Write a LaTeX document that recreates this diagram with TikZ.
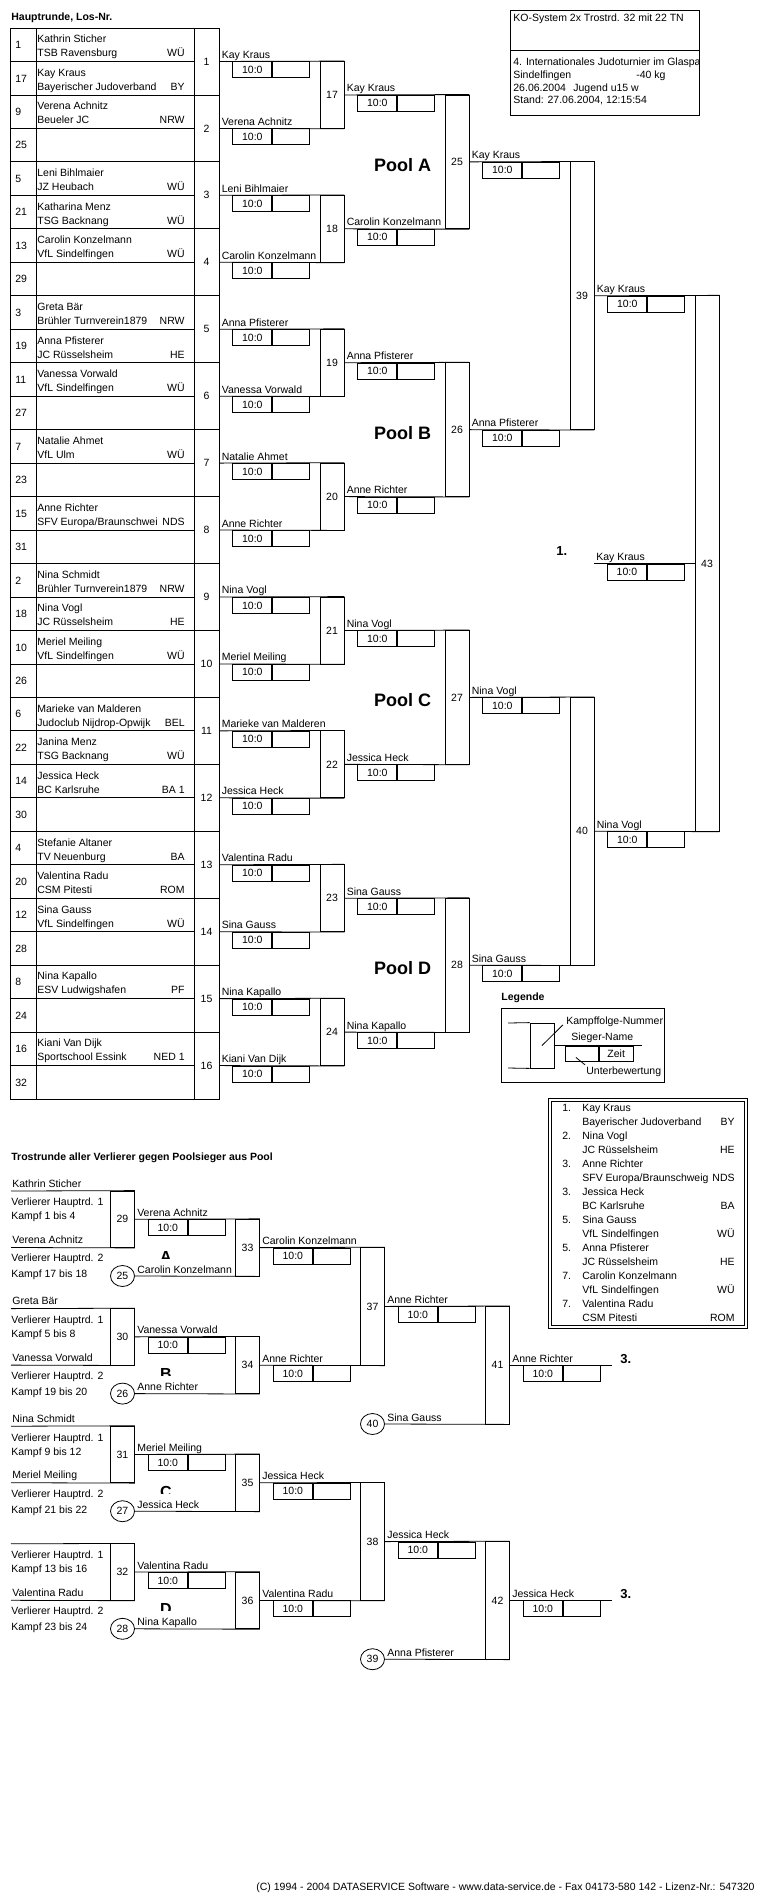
\documentclass[tikz,border=0pt]{standalone}
\usepackage{fontspec}
\setmainfont{Liberation Sans}
\usetikzlibrary{positioning,calc,shapes.geometric}
\tikzset{
  txt/.style = {inner sep=0pt, font=\fontsize{10.5}{12}\selectfont},
  lbl/.style = {txt, anchor=base west, yshift=-3.8pt},
  code/.style = {txt, anchor=base east, yshift=-3.8pt},
  head/.style = {lbl, font=\fontsize{10.5}{12}\selectfont\bfseries},
  kbox/.style = {txt, draw, rectangle, minimum width=24pt},% Kampfnummer
  wname/.style = {txt, anchor=base west},% Siegername
  sleft/.style = {txt, draw, anchor=north west, minimum width=39pt,
    minimum height=16pt},% Wertung
  sright/.style = {txt, draw, anchor=north west, minimum width=37pt,
    minimum height=16pt},% Zeit
  pool/.style = {inner sep=0pt, font=\fontsize{18}{20}\selectfont\bfseries},
  rankmark/.style = {inner sep=0pt, anchor=base west,
    font=\fontsize{13}{15}\selectfont\bfseries},
  pwin/.style = {txt, draw, ellipse, minimum width=24pt,
    minimum height=21pt},% Poolsieger
  letter/.style = {inner sep=0pt, anchor=base,
    font=\fontsize{16}{18}\selectfont\bfseries}
}
\newcommand{\rh}{33.47}
% Siegerzeile: Name ueber der Linie, Wertung darunter
\newcommand{\sieger}[3]{%
  \node[wname] (n#3) at ([shift={(2pt,3pt)}]#1) {#2};
  \node[sleft] (s#3) at ([xshift=13pt]#1) {10:0};
  \node[sright] (z#3) at (s#3.north east) {};
}
\begin{document}
\begin{tikzpicture}[x=1pt,y=-1pt,line width=0.8pt]
\useasboundingbox (0,0) rectangle (770,1900);

% Kopf
\node[head] (title) at (11,17) {Hauptrunde, Los-Nr.};
\draw (510,10) rectangle (699,115);
\draw (510,50) -- (699,50);
\node[lbl] (sys) at (513,18) {KO-System 2x Trostrd. 32 mit 22 TN};
\begin{scope}
  \clip (510,50) rectangle (698,115);
  \node[lbl] (ev) at (513,62) {4. Internationales Judoturnier im Glaspa};
\end{scope}
\node[lbl] (ort) at (513,75) {Sindelfingen};
\node[lbl] (kg) at (636,75) {-40 kg};
\node[lbl] (dat) at (513,88) {26.06.2004};
\node[lbl] (kl) at (573,88) {Jugend u15 w};
\node[lbl] (stand) at (513,100) {Stand: 27.06.2004, 12:15:54};

% Los-Tabelle
\draw (10,28) rectangle (219,{28+32*\rh});
\draw (36,28) -- (36,{28+32*\rh});
\foreach \r in {1,...,31}
  \draw (10,{28+\r*\rh}) -- (194,{28+\r*\rh});
\foreach [count=\r] \los/\nm/\club/\st in {
  1/Kathrin Sticher/TSB Ravensburg/WÜ,
  17/Kay Kraus/Bayerischer Judoverband/BY,
  9/Verena Achnitz/Beueler JC/NRW,
  25/{}/{}/{},
  5/Leni Bihlmaier/JZ Heubach/WÜ,
  21/Katharina Menz/TSG Backnang/WÜ,
  13/Carolin Konzelmann/VfL Sindelfingen/WÜ,
  29/{}/{}/{},
  3/Greta Bär/Brühler Turnverein1879/NRW,
  19/Anna Pfisterer/JC Rüsselsheim/HE,
  11/Vanessa Vorwald/VfL Sindelfingen/WÜ,
  27/{}/{}/{},
  7/Natalie Ahmet/VfL Ulm/WÜ,
  23/{}/{}/{},
  15/Anne Richter/{SFV Europa/Braunschwei}/NDS,
  31/{}/{}/{},
  2/Nina Schmidt/Brühler Turnverein1879/NRW,
  18/Nina Vogl/JC Rüsselsheim/HE,
  10/Meriel Meiling/VfL Sindelfingen/WÜ,
  26/{}/{}/{},
  6/Marieke van Malderen/Judoclub Nijdrop-Opwijk/BEL,
  22/Janina Menz/TSG Backnang/WÜ,
  14/Jessica Heck/BC Karlsruhe/BA 1,
  30/{}/{}/{},
  4/Stefanie Altaner/TV Neuenburg/BA,
  20/Valentina Radu/CSM Pitesti/ROM,
  12/Sina Gauss/VfL Sindelfingen/WÜ,
  28/{}/{}/{},
  8/Nina Kapallo/ESV Ludwigshafen/PF,
  24/{}/{}/{},
  16/Kiani Van Dijk/Sportschool Essink/NED 1,
  32/{}/{}/{}}{
  \node[lbl] (los\r) at (15,{28+(\r-0.5)*\rh}) {\los};
  \node[lbl] (nm\r) at (37,{28+(\r-1)*\rh+11}) {\nm};
  \node[lbl] (cl\r) at (37,{28+(\r-1)*\rh+25}) {\club};
  \node[code] (st\r) at (185,{28+(\r-1)*\rh+25}) {\st};
}
\foreach \k in {1,...,16}
  \node[kbox, minimum width=25pt, minimum height=2*\rh] (m\k)
    at (206.5,{28+(2*\k-1)*\rh}) {\k};

% Hauptrunde
\foreach \j in {1,...,8}{
  \pgfmathtruncatemacro\fn{16+\j}
  \node[kbox, minimum height=2*\rh] (f\fn) at (332,{28+(4*\j-2)*\rh}) {\fn};
}
\foreach \j in {1,...,4}{
  \pgfmathtruncatemacro\fn{24+\j}
  \node[kbox, minimum height=4*\rh] (f\fn) at (457,{28+(8*\j-4)*\rh}) {\fn};
}
\node[kbox, minimum height=8*\rh] (f39) at (582,{28+8*\rh}) {39};
\node[kbox, minimum height=8*\rh] (f40) at (582,{28+24*\rh}) {40};
\node[kbox, minimum height=16*\rh] (f43) at (707,{28+16*\rh}) {43};

\foreach \j in {1,...,8}{
  \pgfmathtruncatemacro\fa{2*\j-1}
  \pgfmathtruncatemacro\fb{2*\j}
  \pgfmathtruncatemacro\fn{16+\j}
  \draw (m\fa.east) -- (f\fn.north east);
  \draw (m\fb.east) -- (f\fn.south east);
}
\foreach \j in {1,...,4}{
  \pgfmathtruncatemacro\fa{15+2*\j}
  \pgfmathtruncatemacro\fb{16+2*\j}
  \pgfmathtruncatemacro\fn{24+\j}
  \draw (f\fa.east) -- (f\fn.north east);
  \draw (f\fb.east) -- (f\fn.south east);
}
\draw (f25.east) -- (f39.north east);
\draw (f26.east) -- (f39.south east);
\draw (f27.east) -- (f40.north east);
\draw (f28.east) -- (f40.south east);
\draw (f39.east) -- (f43.north east);
\draw (f40.east) -- (f43.south east);
\coordinate (champ) at (594,{28+16*\rh});
\draw (f43.west) -- (champ);

\foreach \k/\w in {1/Kay Kraus, 2/Verena Achnitz, 3/Leni Bihlmaier,
  4/Carolin Konzelmann, 5/Anna Pfisterer, 6/Vanessa Vorwald,
  7/Natalie Ahmet, 8/Anne Richter, 9/Nina Vogl, 10/Meriel Meiling,
  11/Marieke van Malderen, 12/Jessica Heck, 13/Valentina Radu,
  14/Sina Gauss, 15/Nina Kapallo, 16/Kiani Van Dijk}
  {\sieger{m\k.east}{\w}{\k}}
\foreach \k/\w in {17/Kay Kraus, 18/Carolin Konzelmann, 19/Anna Pfisterer,
  20/Anne Richter, 21/Nina Vogl, 22/Jessica Heck, 23/Sina Gauss,
  24/Nina Kapallo, 25/Kay Kraus, 26/Anna Pfisterer, 27/Nina Vogl,
  28/Sina Gauss, 39/Kay Kraus, 40/Nina Vogl}
  {\sieger{f\k.east}{\w}{\k}}
\sieger{champ}{Kay Kraus}{43}
\node[rankmark] (first) at (556,555) {1.};

\node[pool, left=13pt of f25.west, yshift=-3pt] (poolA) {Pool A};
\node[pool, left=13pt of f26.west, yshift=-3pt] (poolB) {Pool B};
\node[pool, left=13pt of f27.west, yshift=-3pt] (poolC) {Pool C};
\node[pool, left=13pt of f28.west, yshift=-3pt] (poolD) {Pool D};

% Legende
\node[head] (leg) at (501,997) {Legende};
\draw (501,1008) rectangle (664,1082);
\node[draw, rectangle, inner sep=0pt, minimum width=24pt,
  minimum height=45pt] (lgk) at (542,1045.5) {};
\coordinate (lga) at (508,1023);
\coordinate (lgb) at (508,1068);
\coordinate (lgw) at (642,1045.5);
\draw (lga) -- (lgk.north west);
\draw (lgb) -- (lgk.south west);
\draw (lgk.east) -- (lgw);
\node[sleft, minimum width=33pt, minimum height=15pt] (lgs) at (565,1045.5) {};
\node[sright, minimum width=34pt, minimum height=15pt] (lgz) at (lgs.north east) {Zeit};
\node[lbl] (lgt1) at (566,1021) {Kampffolge-Nummer};
\node[lbl] (lgt2) at (571,1037) {Sieger-Name};
\node[lbl] (lgt3) at (586,1071) {Unterbewertung};
\draw (lgk.center) -- ([shift={(-3pt,0pt)}]lgt1.base west);
\draw ([shift={(-6pt,-4pt)}]lgs.center) -- ([shift={(-1pt,10pt)}]lgt3.base west);

% Platzierungen
\draw (548,1098) rectangle (747,1328);
\draw (551,1101) rectangle (744,1325);
\foreach [count=\i from 0] \rk/\nm/\club/\st in {
  1./Kay Kraus/Bayerischer Judoverband/BY,
  2./Nina Vogl/JC Rüsselsheim/HE,
  3./Anne Richter/{SFV Europa/Braunschweig}/NDS,
  3./Jessica Heck/BC Karlsruhe/BA,
  5./Sina Gauss/VfL Sindelfingen/WÜ,
  5./Anna Pfisterer/JC Rüsselsheim/HE,
  7./Carolin Konzelmann/VfL Sindelfingen/WÜ,
  7./Valentina Radu/CSM Pitesti/ROM}{
  \node[lbl] (rk\i) at (562,{1108+28*\i}) {\rk};
  \node[lbl] (rn\i) at (582,{1108+28*\i}) {\nm};
  \node[lbl] (rc\i) at (582,{1122+28*\i}) {\club};
  \node[code] (rs\i) at (735,{1122+28*\i}) {\st};
}

% Trostrunde
\node[head] (tr) at (11,1157) {Trostrunde aller Verlierer gegen Poolsieger aus Pool};
\foreach [count=\i from 0] \lta/\ltb/\ka/\kb/\wa/\pw/\pl/\wb in {
  Kathrin Sticher/Verena Achnitz/1 bis 4/17 bis 18/Verena Achnitz/Carolin Konzelmann/A/Carolin Konzelmann,
  Greta Bär/Vanessa Vorwald/5 bis 8/19 bis 20/Vanessa Vorwald/Anne Richter/B/Anne Richter,
  Nina Schmidt/Meriel Meiling/9 bis 12/21 bis 22/Meriel Meiling/Jessica Heck/C/Jessica Heck,
  {}/Valentina Radu/13 bis 16/23 bis 24/Valentina Radu/Nina Kapallo/D/Valentina Radu}{
  \pgfmathsetmacro\tp{1191+117.6*\i}
  \pgfmathtruncatemacro\fx{29+\i}
  \pgfmathtruncatemacro\fy{33+\i}
  \pgfmathtruncatemacro\cn{25+\i}
  \node[kbox, minimum height=56.5pt] (f\fx) at (122.5,{\tp+28.25}) {\fx};
  \coordinate (la\i) at (11,\tp);
  \coordinate (lb\i) at (11,{\tp+56.5});
  \draw (la\i) -- (f\fx.north east);
  \draw (lb\i) -- (f\fx.south east);
  \node[wname] (va\i) at (12,{\tp-4}) {\lta};
  \node[lbl] (ha\i) at (11,{\tp+11}) {Verlierer Hauptrd. 1};
  \node[lbl] (ka\i) at (11,{\tp+25}) {Kampf \ka};
  \node[wname] (vb\i) at (12,{\tp+52.5}) {\ltb};
  \node[lbl] (hb\i) at (11,{\tp+67}) {Verlierer Hauptrd. 2};
  \node[lbl] (kb\i) at (11,{\tp+83}) {Kampf \kb};
  \node[pwin] (c\cn) at (122.5,{\tp+85}) {\cn};
  \node[kbox, minimum height=56.75pt] (f\fy) at (247.5,{\tp+56.625}) {\fy};
  \draw (f\fx.east) -- (f\fy.north east);
  \draw (c\cn.east) -- (f\fy.south east);
  \sieger{f\fx.east}{\wa}{\fx}
  \begin{scope}
    \clip (150,{\tp+50}) rectangle (185,{\tp+67});
    \node[letter] (pl\i) at (166,{\tp+71}) {\pl};
  \end{scope}
  \node[wname] (pn\i) at (137,{\tp+82}) {\pw};
  \sieger{f\fy.east}{\wb}{\fy}
}
\node[kbox, minimum height=117.6pt] (f37) at (372.5,1306.4) {37};
\node[kbox, minimum height=117.6pt] (f38) at (372.5,1541.6) {38};
\node[kbox, minimum height=117.6pt] (f41) at (497.5,1365.2) {41};
\node[kbox, minimum height=117.6pt] (f42) at (497.5,1600.4) {42};
\node[pwin] (c40) at (372.5,1424) {40};
\node[pwin] (c39) at (372.5,1659.2) {39};
\draw (f33.east) -- (f37.north east);
\draw (f34.east) -- (f37.south east);
\draw (f35.east) -- (f38.north east);
\draw (f36.east) -- (f38.south east);
\draw (f37.east) -- (f41.north east);
\draw (c40.east) -- (f41.south east);
\draw (f38.east) -- (f42.north east);
\draw (c39.east) -- (f42.south east);
\coordinate (third1) at (612,1365.2);
\coordinate (third2) at (612,1600.4);
\draw (f41.east) -- (third1);
\draw (f42.east) -- (third2);
\sieger{f37.east}{Anne Richter}{37}
\sieger{f38.east}{Jessica Heck}{38}
\sieger{f41.east}{Anne Richter}{41}
\sieger{f42.east}{Jessica Heck}{42}
\node[wname] (pn40) at (387,1421) {Sina Gauss};
\node[wname] (pn39) at (387,1656.2) {Anna Pfisterer};
\node[rankmark] (r41) at (620,1363) {3.};
\node[rankmark] (r42) at (620,1598) {3.};

\node[code] (foot) at (755,1887) {(C) 1994 - 2004 DATASERVICE Software - www.data-service.de - Fax 04173-580 142 - Lizenz-Nr.: 547320};
\end{tikzpicture}
\end{document}
